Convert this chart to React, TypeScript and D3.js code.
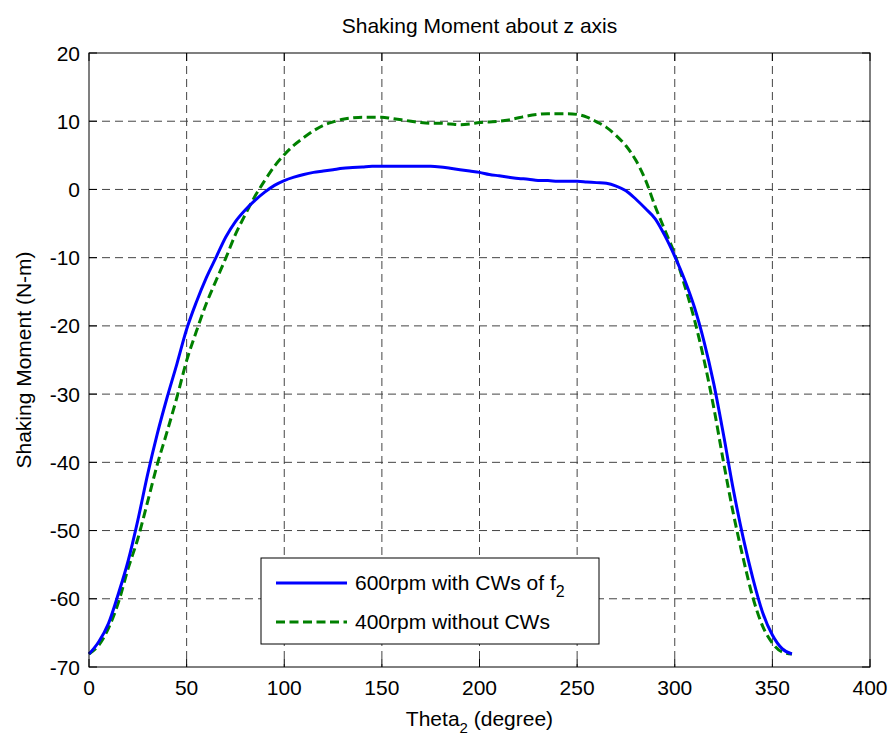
import * as d3 from "d3";
import React from "react";

// theta in degrees, moment in N-m
const theta = d3.range(0, 361, 5);

const moment600 = [
  -68.1, -66.3, -63.6, -59.3, -54.5, -48.5, -41.8, -35.8, -30.5, -25.6,
  -20.5, -16.5, -13.0, -10.0, -7.0, -4.7, -3.0, -1.6, -0.4, 0.6,
  1.3, 1.8, 2.2, 2.5, 2.7, 2.9, 3.1, 3.2, 3.3, 3.4,
  3.4, 3.4, 3.4, 3.4, 3.4, 3.4, 3.3, 3.1, 2.9, 2.7,
  2.5, 2.2, 2.0, 1.8, 1.6, 1.5, 1.3, 1.3, 1.2, 1.2,
  1.2, 1.1, 1.0, 0.9, 0.5, -0.2, -1.4, -2.8, -4.3, -6.8,
  -9.8, -13.2, -17.2, -22.3, -28.5, -36.0, -44.0, -51.0, -57.0, -62.0,
  -65.3, -67.3, -68.1,
];

const moment400 = [
  -68.1, -66.8, -64.3, -60.6, -55.6, -51.2, -45.8, -40.3, -35.5, -30.5,
  -25.1, -20.8, -16.8, -13.4, -10.1, -6.6, -3.7, -1.0, 1.3, 3.4,
  5.1, 6.5, 7.6, 8.6, 9.4, 9.9, 10.3, 10.5, 10.6, 10.6,
  10.6, 10.4, 10.2, 10.0, 9.8, 9.7, 9.7, 9.6, 9.5, 9.6,
  9.8, 9.9, 10.0, 10.2, 10.5, 10.8, 11.0, 11.1, 11.1, 11.1,
  11.0, 10.6, 9.9, 9.1, 7.9, 6.4, 4.3, 1.4, -2.5, -6.0,
  -9.5, -14.0, -19.0, -25.0, -32.0, -40.0, -47.5, -54.0, -59.8, -64.0,
  -66.5, -67.8, -68.1,
];

const xTicks = [0, 50, 100, 150, 200, 250, 300, 350, 400];
const yTicks = [20, 10, 0, -10, -20, -30, -40, -50, -60, -70];

const W = 894, H = 740;
const margin = { left: 89, right: 24, top: 53, bottom: 73 };
const font = "'Liberation Sans', Arial, Helvetica, sans-serif";

export default function App() {
  const x = d3.scaleLinear().domain([0, 400]).range([margin.left, W - margin.right]);
  const y = d3.scaleLinear().domain([-70, 20]).range([H - margin.bottom, margin.top]);
  const [x0, x1] = x.range();
  const [y0, y1] = y.range();

  const line = d3
    .line<number>()
    .x((_, i) => x(theta[i]))
    .y((d) => y(d))
    .curve(d3.curveMonotoneX);

  const tick = 8;
  const gridStyle = { stroke: "#444", strokeWidth: 1, strokeDasharray: "8,5" };

  // legend
  const lg = { x: 261, y: 558, w: 338, h: 86 };

  return (
    <svg width={W} height={H} style={{ position: "absolute", left: 0, top: 0, background: "#fff" }} fontFamily={font}>
      <rect x={0} y={0} width={W} height={H} fill="#fff" />

      {/* grid */}
      {xTicks.slice(1, -1).map((t) => (
        <line key={"gx" + t} x1={x(t)} x2={x(t)} y1={y1} y2={y0} {...gridStyle} />
      ))}
      {yTicks.slice(1, -1).map((t) => (
        <line key={"gy" + t} x1={x0} x2={x1} y1={y(t)} y2={y(t)} {...gridStyle} />
      ))}

      {/* ticks on all four sides */}
      {xTicks.map((t) => (
        <g key={"tx" + t} stroke="#000" strokeWidth={1}>
          <line x1={x(t)} x2={x(t)} y1={y0} y2={y0 - tick} />
          <line x1={x(t)} x2={x(t)} y1={y1} y2={y1 + tick} />
        </g>
      ))}
      {yTicks.map((t) => (
        <g key={"ty" + t} stroke="#000" strokeWidth={1}>
          <line x1={x0} x2={x0 + tick} y1={y(t)} y2={y(t)} />
          <line x1={x1} x2={x1 - tick} y1={y(t)} y2={y(t)} />
        </g>
      ))}

      {/* curves */}
      <path d={line(moment400) ?? ""} fill="none" stroke="#008000" strokeWidth={3} strokeDasharray="9,4.5" />
      <path d={line(moment600) ?? ""} fill="none" stroke="#0000ff" strokeWidth={3} />

      {/* frame */}
      <rect x={x0} y={y1} width={x1 - x0} height={y0 - y1} fill="none" stroke="#000" strokeWidth={1} />

      {/* tick labels */}
      {xTicks.map((t) => (
        <text key={"lx" + t} x={x(t)} y={y0 + 28} textAnchor="middle" fontSize={21} fill="#000">
          {t}
        </text>
      ))}
      {yTicks.map((t) => (
        <text key={"ly" + t} x={x0 - 9} y={y(t) + 7.5} textAnchor="end" fontSize={21} fill="#000">
          {t}
        </text>
      ))}

      {/* title and axis labels */}
      <text x={(x0 + x1) / 2} y={33} textAnchor="middle" fontSize={21} fill="#000">
        Shaking Moment about z axis
      </text>
      <text x={(x0 + x1) / 2} y={726} textAnchor="middle" fontSize={21} fill="#000">
        Theta<tspan dy={7} fontSize={15}>2</tspan>
        <tspan dy={-7}> (degree)</tspan>
      </text>
      <text
        transform={`translate(31,${(y0 + y1) / 2}) rotate(-90)`}
        textAnchor="middle"
        fontSize={21}
        fill="#000"
      >
        Shaking Moment (N-m)
      </text>

      {/* legend */}
      <rect x={lg.x} y={lg.y} width={lg.w} height={lg.h} fill="#fff" stroke="#000" strokeWidth={1} />
      <line x1={276} x2={347} y1={583} y2={583} stroke="#0000ff" strokeWidth={3} />
      <line x1={276} x2={347} y1={622} y2={622} stroke="#008000" strokeWidth={3} strokeDasharray="9,4.5" />
      <text x={355} y={590} fontSize={21} fill="#000">
        600rpm with CWs of f<tspan dy={7} fontSize={16}>2</tspan>
      </text>
      <text x={355} y={629} fontSize={21} fill="#000">
        400rpm without CWs
      </text>
    </svg>
  );
}
